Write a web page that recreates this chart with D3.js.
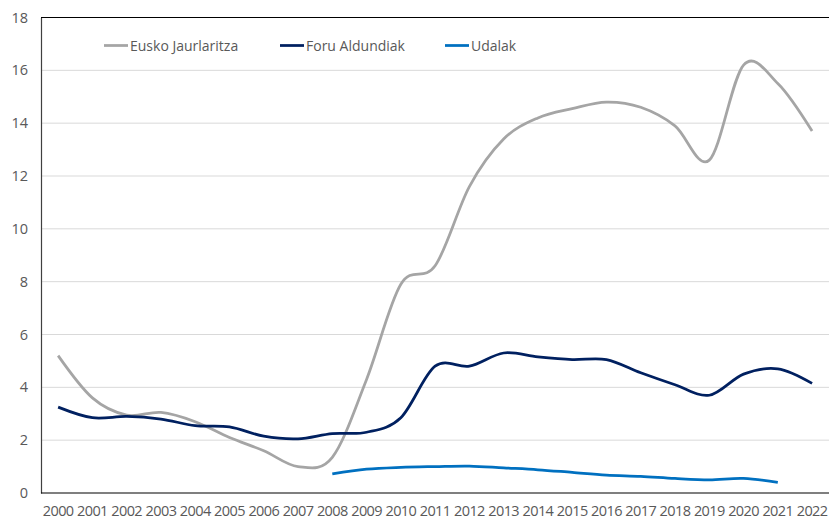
<!DOCTYPE html>
<html>
<head>
<meta charset="utf-8">
<script src="https://cdn.jsdelivr.net/npm/d3@7"></script>
<style>
  body { margin: 0; background: #fff; }
  svg text { font-family: "Open Sans", "Noto Sans", sans-serif; fill: #595959; }
</style>
</head>
<body>
<div id="chart"></div>
<script>
const years = d3.range(2000, 2023).map(String);
const eusko = [5.2, 3.6, 2.95, 3.05, 2.7, 2.1, 1.6, 1.0, 1.35, 4.3, 7.9, 8.6, 11.6, 13.4, 14.2, 14.55, 14.8, 14.6, 13.9, 12.6, 16.2, 15.5, 13.7];
const foru = [3.25, 2.85, 2.9, 2.8, 2.55, 2.5, 2.15, 2.05, 2.25, 2.3, 2.85, 4.8, 4.8, 5.3, 5.15, 5.05, 5.05, 4.55, 4.1, 3.7, 4.5, 4.7, 4.15];
const udalak = [null, null, null, null, null, null, null, null, 0.72, 0.9, 0.97, 1.0, 1.02, 0.95, 0.88, 0.78, 0.68, 0.63, 0.55, 0.5, 0.55, 0.4, null];
const yTicks = [0, 2, 4, 6, 8, 10, 12, 14, 16, 18];
const seriesNames = ["Eusko Jaurlaritza", "Foru Aldundiak", "Udalak"];
const seriesColors = ["#A5A5A5", "#002060", "#0070C0"];

(function () {
  const width = 829, height = 520;
  const margin = { top: 17.5, right: 0, bottom: 27, left: 41 };
  const svg = d3.select("#chart").append("svg")
    .attr("width", width).attr("height", height);

  const x = d3.scaleBand().domain(years)
    .range([margin.left, margin.left + 23 * 34.27]);
  const y = d3.scaleLinear().domain([0, 18])
    .range([height - margin.bottom, margin.top]);
  const cx = d => x(d) + x.bandwidth() / 2;

  // gridlines
  svg.append("g").selectAll("line")
    .data(yTicks.filter(t => t > 0 && t < 18))
    .enter().append("line")
    .attr("x1", margin.left).attr("x2", width)
    .attr("y1", d => y(d)).attr("y2", d => y(d))
    .attr("stroke", "#D9D9D9").attr("stroke-width", 1);

  // top border
  svg.append("line")
    .attr("x1", margin.left).attr("x2", width)
    .attr("y1", y(18)).attr("y2", y(18))
    .attr("stroke", "#000").attr("stroke-width", 1.2);

  // y axis
  const yAxis = svg.append("g")
    .attr("transform", `translate(${margin.left},0)`)
    .call(d3.axisLeft(y).tickValues(yTicks).tickSize(0).tickPadding(13));
  yAxis.select(".domain").attr("stroke", "#404040").attr("stroke-width", 1.2);
  yAxis.selectAll("text").style("font-size", "14.5px").attr("fill", "#595959");

  // x axis
  const xAxis = svg.append("g")
    .attr("transform", `translate(0,${y(0)})`)
    .call(d3.axisBottom(x).tickSize(0).tickPadding(13));
  xAxis.select(".domain").attr("stroke", "#000").attr("stroke-width", 1.2)
    .attr("d", `M${margin.left},0H${width}`);
  xAxis.selectAll("text").style("font-size", "14.5px").attr("fill", "#595959")
    .style("letter-spacing", "-0.6px");

  const line = d3.line()
    .defined(d => d[1] != null)
    .x(d => cx(d[0]))
    .y(d => y(d[1]))
    .curve(d3.curveCatmullRom.alpha(0));

  [eusko, foru, udalak].forEach((vals, i) => {
    svg.append("path")
      .datum(years.map((yr, j) => [yr, vals[j]]).filter(d => d[1] != null))
      .attr("fill", "none")
      .attr("stroke", seriesColors[i])
      .attr("stroke-width", 2.75)
      .attr("stroke-linejoin", "round")
      .attr("d", line);
  });

  // legend
  const legendX = [104, 280, 445];
  const legend = svg.append("g");
  seriesNames.forEach((name, i) => {
    legend.append("line")
      .attr("x1", legendX[i]).attr("x2", legendX[i] + 24)
      .attr("y1", 45.5).attr("y2", 45.5)
      .attr("stroke", seriesColors[i]).attr("stroke-width", 2.75);
    legend.append("text")
      .attr("x", legendX[i] + 26).attr("y", 50.5)
      .style("font-size", "14px")
      .text(name);
  });
})();
</script>
</body>
</html>
